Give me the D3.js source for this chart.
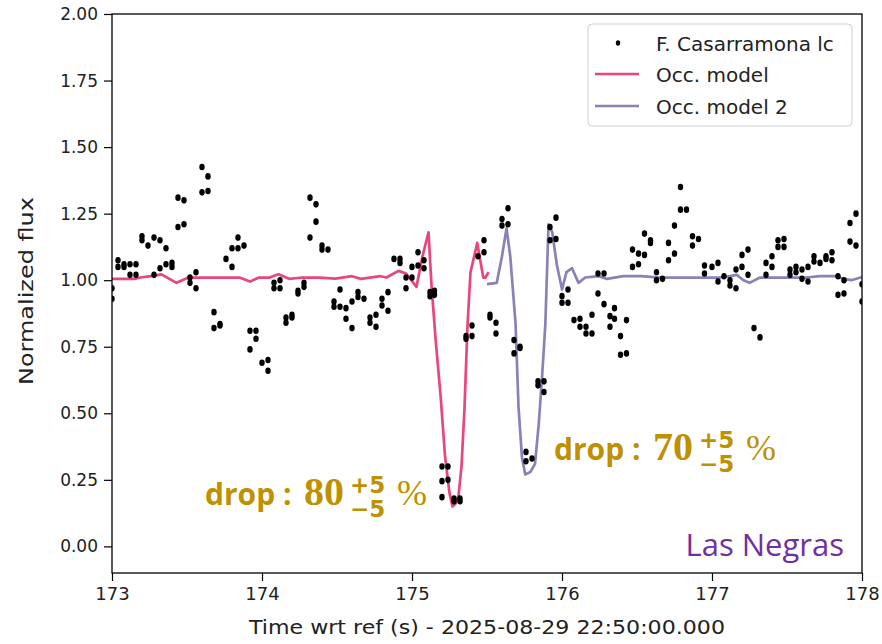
<!DOCTYPE html>
<html>
<head>
<meta charset="utf-8">
<script src="https://cdn.jsdelivr.net/npm/d3@7"></script>
<style>
  html, body { margin: 0; padding: 0; background: #fff; }
  svg { display: block; }
</style>
</head>
<body>
<svg id="chart" width="882" height="644"></svg>
<script>
// Light curve samples (time in s after reference, normalized flux)
const lcTime = [
  173.00,173.00, 173.04,173.04, 173.08,173.08, 173.12,173.12, 173.16,173.16,
  173.20,173.20, 173.24, 173.28,173.28, 173.32,173.32, 173.36,173.36, 173.40,173.40,
  173.44,173.44, 173.48,173.48, 173.52,173.52, 173.56,173.56, 173.60,173.60,
  173.64,173.64, 173.68,173.68, 173.72,173.72, 173.76, 173.80,173.80, 173.84,173.84,
  173.88, 173.92,173.92, 173.96,173.96, 174.00, 174.04,174.04, 174.08,174.08,
  174.12,174.12, 174.16,174.16, 174.20,174.20, 174.24,174.24, 174.28,174.28,
  174.32,174.32, 174.36,174.36, 174.40,174.40, 174.44, 174.48,174.48, 174.52,174.52,
  174.56,174.56, 174.60,174.60, 174.64,174.64, 174.68, 174.72,174.72, 174.76,174.76,
  174.80,174.80, 174.84,174.84, 174.88, 174.92,174.92, 174.96,174.96, 175.00,175.00,
  175.04,175.04, 175.08,175.08, 175.12,175.12, 175.15,175.15,
  175.20,175.20,175.20, 175.24,175.24, 175.28,175.28, 175.32,175.32,
  175.36,175.36, 175.40,175.40, 175.44, 175.48,175.48, 175.52,175.52, 175.56,175.56,
  175.60,175.60, 175.64,175.64, 175.68,175.68, 175.72,175.72, 175.76,175.76, 175.80,
  175.84,175.84, 175.88,175.88, 175.92,175.92, 175.96,175.96, 176.00,176.00,
  176.04,176.04, 176.08, 176.12,176.12, 176.16,176.16, 176.20,176.20, 176.24,176.24,
  176.28,176.28, 176.32,176.32, 176.35,176.35, 176.39,176.39, 176.43,176.43,
  176.47,176.47, 176.51,176.51, 176.55,176.55, 176.59,176.59, 176.63,176.63, 176.67,
  176.71,176.71, 176.75,176.75, 176.79,176.79, 176.83, 176.87,176.87, 176.91,
  176.95,176.95, 177.00, 177.04,177.04, 177.08, 177.12,177.12, 177.16,177.16,
  177.20,177.20, 177.24,177.24, 177.28, 177.32, 177.36,177.36, 177.40,177.40,
  177.44,177.44, 177.48,177.48, 177.52,177.52, 177.56,177.56, 177.60,177.60,
  177.64,177.64, 177.68,177.68, 177.72, 177.76,177.76, 177.80,177.80,
  177.84,177.84, 177.88,177.88, 177.92,177.92, 177.96,177.96, 178.00,178.00
];
const lcFlux = [
  0.97,0.93, 1.075,1.05, 1.06,1.05, 1.06,1.02, 1.06,1.02,
  1.165,1.15, 1.13, 1.16,1.02, 1.15,1.045, 1.12,1.06, 1.065,1.05,
  1.31,1.20, 1.30,1.21, 1.01,0.99, 1.03,0.97, 1.425,1.33,
  1.39,1.335, 0.88,0.82, 0.835,0.83, 1.08, 1.12,1.05, 1.16,1.12,
  1.13, 0.81,0.74, 0.81,0.78, 0.69, 0.70,0.66, 0.99,0.97,
  1.00,0.97, 0.86,0.84, 0.87,0.86, 0.96,0.95, 0.99,0.975,
  1.31,1.16, 1.285,1.22, 1.13,1.115, 1.115, 0.92,0.90, 0.965,0.90,
  0.895,0.855, 0.92,0.82, 0.955,0.937, 0.93, 0.86,0.84, 0.87,0.825,
  0.93,0.905, 0.955,0.885, 1.08, 1.08,1.065, 1.01,0.97, 1.05,1.01,
  1.105,1.055, 1.075,1.045, 0.955,0.94, 0.96,0.945,
  0.30,0.245,0.185, 0.30,0.25, 0.18,0.17, 0.18,0.17,
  0.79,0.78, 0.83,0.79, 1.09, 1.15,1.105, 0.87,0.86, 0.84,0.80,
  1.23,1.205, 1.27,1.21, 0.775,0.725, 0.75,0.745, 0.355,0.32, 0.33,
  0.62,0.605, 0.62,0.58, 1.20,1.15, 1.235,1.155, 0.94,0.915,
  0.965,0.915, 0.85, 0.855,0.825, 0.825,0.80, 0.87,0.80, 1.025,0.95,
  1.025,0.91, 0.865,0.825, 0.895,0.855, 0.79,0.72, 0.85,0.725,
  1.115,1.05, 1.10,1.06, 1.175,1.095, 1.15,1.14, 1.03,1.00, 1.005,
  1.14,1.075, 1.205,1.10, 1.35,1.265, 1.265, 1.165,1.13, 1.155,
  1.055,1.025, 1.05, 1.065,0.995, 1.015, 1.00,0.98, 1.04,0.97,
  1.095,1.05, 1.115,1.02, 0.82, 0.785, 1.065,1.02, 1.09,1.05,
  1.15,1.125, 1.155,1.125, 1.04,1.02, 1.05,1.03, 1.04,1.005,
  1.05,0.995, 1.09,1.07, 1.065, 1.09,1.08, 1.105,1.075,
  1.015,0.945, 1.00,0.95, 1.215,1.145, 1.25,1.13, 0.985,0.92
];

// First occultation model
const model1Time = [
  173.00,173.15,173.19,173.26,173.33,173.43,173.51,173.64,173.85,173.92,
  173.98,174.05,174.11,174.18,174.27,174.38,174.49,174.60,174.66,174.79,
  174.83,174.91,174.96,175.03,175.07,175.11,175.13,175.16,175.19,175.22,
  175.25,175.27,175.29,175.31,175.33,175.35,175.37,175.39,175.435,175.475,
  175.49,175.51
];
const model1Flux = [
  1.005,1.005,1.01,1.015,1.022,0.99,1.01,1.01,1.01,0.995,
  1.01,1.01,1.022,1.005,1.01,1.01,1.006,1.015,1.005,1.015,
  1.01,1.035,1.025,0.975,1.09,1.18,0.98,0.76,0.57,0.34,
  0.20,0.15,0.16,0.19,0.30,0.52,0.83,1.03,1.14,1.01,
  1.01,1.03
];

// Second occultation model
const model2Time = [
  175.50,175.565,175.60,175.63,175.655,175.69,175.71,175.733,175.755,175.79,
  175.82,175.845,175.867,175.889,175.91,175.935,175.965,176.00,176.03,176.067,
  176.11,176.155,176.245,176.30,176.41,176.53,176.65,176.83,177.05,177.12,
  177.165,177.21,177.25,177.32,177.45,177.63,177.72,177.83,177.875,177.93,
  177.99,178.00
];
const model2Flux = [
  0.985,0.99,1.09,1.195,1.09,0.84,0.525,0.335,0.27,0.28,
  0.31,0.46,0.635,0.835,1.21,1.18,1.06,0.965,1.03,1.045,
  0.99,1.01,1.015,1.005,1.015,1.015,1.01,1.01,1.01,1.015,
  1.02,1.0,0.99,1.01,1.01,1.01,1.015,1.015,1.005,1.0,
  1.01,1.012
];

const xTicks = [173, 174, 175, 176, 177, 178];
const yTicks = [0.00, 0.25, 0.50, 0.75, 1.00, 1.25, 1.50, 1.75, 2.00];
const seriesNames = ["F. Casarramona lc", "Occ. model", "Occ. model 2"];
const dropPct = [80, 70];
const dropErr = [5, 5];
const siteName = "Las Negras";

const COLOR_M1 = "#e9457f";
const COLOR_M2 = "#8c80b6";
const GOLD = "#bf9000";
const PURPLE = "#7030a0";

const svg = d3.select("#chart");
const L = 112, R = 862, T = 14, B = 573;

const x = d3.scaleLinear().domain([173, 178]).range([L, R]);
const y = d3.scaleLinear().domain([-0.1, 2.0]).range([B, T]);

svg.append("defs").append("clipPath").attr("id", "plotclip")
  .append("rect").attr("x", L).attr("y", T).attr("width", R - L).attr("height", B - T);

const plot = svg.append("g").attr("clip-path", "url(#plotclip)");

// model curves
const line = d3.line().x(d => x(d[0])).y(d => y(d[1]));
plot.append("path")
  .datum(model1Time.map((t, i) => [t, model1Flux[i]]))
  .attr("d", line).attr("fill", "none")
  .attr("stroke", COLOR_M1).attr("stroke-width", 2.7).attr("stroke-linejoin", "round");
plot.append("path")
  .datum(model2Time.map((t, i) => [t, model2Flux[i]]))
  .attr("d", line).attr("fill", "none")
  .attr("stroke", COLOR_M2).attr("stroke-width", 2.7).attr("stroke-linejoin", "round");

// light-curve points
plot.append("g").selectAll("ellipse")
  .data(lcTime.map((t, i) => [t, lcFlux[i]]))
  .join("ellipse")
  .attr("cx", d => x(d[0])).attr("cy", d => y(d[1]))
  .attr("rx", 2.7).attr("ry", 3.3).attr("fill", "#000");

// axes
const fontAxis = "'DejaVu Sans', sans-serif";
const xAxis = svg.append("g").attr("transform", `translate(0,${B})`)
  .call(d3.axisBottom(x).tickValues(xTicks).tickFormat(d3.format("d")).tickSize(8).tickPadding(6));
const yAxis = svg.append("g").attr("transform", `translate(${L},0)`)
  .call(d3.axisLeft(y).tickValues(yTicks).tickFormat(d3.format(".2f")).tickSize(8).tickPadding(6));
[xAxis, yAxis].forEach(g => {
  g.select(".domain").remove();
  g.selectAll(".tick line").attr("stroke", "#000").attr("stroke-width", 1.2);
  g.selectAll(".tick text").attr("fill", "#222").style("font-family", fontAxis).style("font-size", "17px");
});
xAxis.selectAll(".tick text").style("font-size", "18px");

// frame
svg.append("rect").attr("x", L).attr("y", T).attr("width", R - L).attr("height", B - T)
  .attr("fill", "none").attr("stroke", "#000").attr("stroke-width", 1.3);

// axis labels
svg.append("text")
  .attr("transform", `translate(33,291) rotate(-90)`)
  .attr("text-anchor", "middle").attr("fill", "#222")
  .style("font-family", fontAxis).style("font-size", "20px")
  .attr("textLength", 188).attr("lengthAdjust", "spacingAndGlyphs")
  .text("Normalized flux");
svg.append("text")
  .attr("x", (L + R) / 2).attr("y", 634).attr("text-anchor", "middle").attr("fill", "#222")
  .style("font-family", fontAxis).style("font-size", "20px")
  .attr("textLength", 476).attr("lengthAdjust", "spacingAndGlyphs")
  .text("Time wrt ref (s)  - 2025-08-29 22:50:00.000");

// legend
const lg = svg.append("g");
lg.append("rect").attr("x", 588).attr("y", 24).attr("width", 264).attr("height", 102)
  .attr("rx", 4).attr("fill", "#fff").attr("fill-opacity", 0.85)
  .attr("stroke", "#cfcfcf").attr("stroke-width", 1);
const rowsY = [43, 74, 106];
lg.append("ellipse").attr("cx", 618).attr("cy", rowsY[0]).attr("rx", 2.2).attr("ry", 2.7).attr("fill", "#000");
lg.append("line").attr("x1", 595).attr("x2", 639).attr("y1", rowsY[1]).attr("y2", rowsY[1])
  .attr("stroke", COLOR_M1).attr("stroke-width", 2.7);
lg.append("line").attr("x1", 595).attr("x2", 639).attr("y1", rowsY[2]).attr("y2", rowsY[2])
  .attr("stroke", COLOR_M2).attr("stroke-width", 2.7);
seriesNames.forEach((s, i) => {
  lg.append("text").attr("x", 656).attr("y", rowsY[i] + 7.5).attr("fill", "#222")
    .style("font-family", fontAxis).style("font-size", "20px").text(s);
});

// drop annotations: "drop : NN" with stacked +err / −err and a percent sign
function dropLabel(x0, base, pct, err) {
  const g = svg.append("g").attr("fill", GOLD);
  g.append("text").attr("x", x0).attr("y", base)
    .style("font-family", "'Open Sans', sans-serif").style("font-weight", 700).style("font-size", "30px")
    .text("drop :");
  g.append("text").attr("x", x0 + 99).attr("y", base)
    .style("font-family", "'Liberation Serif', serif").style("font-weight", 700).style("font-size", "40px")
    .text(pct);
  const pm = g.append("text")
    .style("font-family", "'DejaVu Sans', sans-serif").style("font-weight", 700).style("font-size", "23px");
  pm.append("tspan").attr("x", x0 + 145).attr("y", base - 12).text("+" + err);
  pm.append("tspan").attr("x", x0 + 145).attr("y", base + 12).text("\u2212" + err);
  g.append("text").attr("x", x0 + 192).attr("y", base)
    .style("font-family", "'Liberation Serif', serif").style("font-size", "36px")
    .text("%");
}
dropLabel(205, 505, dropPct[0], dropErr[0]);
dropLabel(554, 460, dropPct[1], dropErr[1]);

// site name
svg.append("text").attr("x", 844).attr("y", 556).attr("text-anchor", "end")
  .attr("fill", PURPLE)
  .style("font-family", "'Open Sans', sans-serif").style("font-size", "31px")
  .text(siteName);
</script>
</body>
</html>
